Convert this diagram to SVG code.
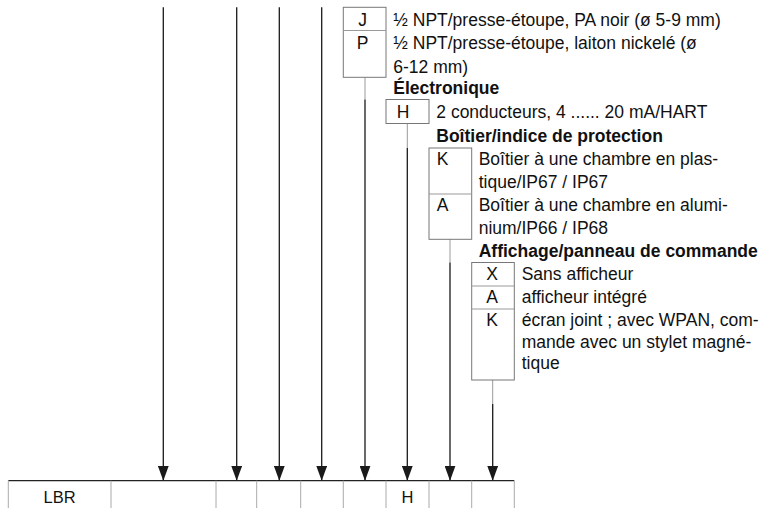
<svg xmlns="http://www.w3.org/2000/svg" width="760" height="508" viewBox="0 0 760 508">
<style>
text{font-family:"Liberation Sans",Arial,sans-serif;font-size:17.5px;fill:#111}
.b{font-weight:bold}
.c{text-anchor:middle}
.box{fill:none;stroke:#777;stroke-width:1}
.div{stroke:#999;stroke-width:1}
.ln{stroke:#1a1a1a;stroke-width:1.3;fill:none}
.gl{stroke:#999;stroke-width:1;fill:none}
.cell{stroke:#aaa;stroke-width:1}
</style>
<defs>
<marker id="ah" markerUnits="userSpaceOnUse" viewBox="0 0 11 15" markerWidth="11" markerHeight="15" refX="5.5" refY="15" orient="0">
<path d="M0,0 L11,0 L5.5,15 Z" fill="#1a1a1a"/>
</marker>
</defs>

<g id="connectors">
<line class="ln" x1="163.3" y1="7.3" x2="163.3" y2="480.7" marker-end="url(#ah)"/>
<line class="ln" x1="236.7" y1="7.3" x2="236.7" y2="480.7" marker-end="url(#ah)"/>
<line class="ln" x1="279.3" y1="7.3" x2="279.3" y2="480.7" marker-end="url(#ah)"/>
<line class="ln" x1="321.7" y1="7.3" x2="321.7" y2="480.7" marker-end="url(#ah)"/>
<line class="gl" x1="365" y1="77.3" x2="365" y2="99.5"/>
<line class="ln" x1="365" y1="99.5" x2="365" y2="480.7" marker-end="url(#ah)"/>
<line class="gl" x1="407.3" y1="123.5" x2="407.3" y2="148"/>
<line class="ln" x1="407.3" y1="148" x2="407.3" y2="480.7" marker-end="url(#ah)"/>
<line class="gl" x1="450" y1="239.3" x2="450" y2="262.5"/>
<line class="ln" x1="450" y1="262.5" x2="450" y2="480.7" marker-end="url(#ah)"/>
<line class="gl" x1="492.7" y1="380" x2="492.7" y2="404"/>
<line class="ln" x1="492.7" y1="404" x2="492.7" y2="480.7" marker-end="url(#ah)"/>
</g>

<g id="node-cable">
<rect class="box" x="343.3" y="7.3" width="42.7" height="70"/>
<line class="div" x1="343.3" y1="30.5" x2="386" y2="30.5"/>
<text class="c" x="362.5" y="25.5">J</text>
<text class="c" x="362.5" y="49">P</text>
<text x="393.3" y="25.5">½ NPT/presse-étoupe, PA noir (ø 5-9 mm)</text>
<text x="393.3" y="49">½ NPT/presse-étoupe, laiton nickelé (ø</text>
<text x="393.3" y="72.5">6-12 mm)</text>
</g>

<g id="node-electronique">
<text class="b" x="393.3" y="94">Électronique</text>
<rect class="box" x="386" y="99.5" width="43" height="24"/>
<text class="c" x="403" y="118">H</text>
<text x="436.3" y="118">2 conducteurs, 4 ...... 20 mA/HART</text>
</g>

<g id="node-boitier">
<text class="b" x="436.3" y="141.5">Boîtier/indice de protection</text>
<rect class="box" x="429" y="148" width="42.7" height="91.3"/>
<line class="div" x1="429" y1="194" x2="471.7" y2="194"/>
<text class="c" x="442.5" y="165">K</text>
<text class="c" x="442.5" y="211">A</text>
<text x="478.7" y="165">Boîtier à une chambre en plas-</text>
<text x="478.7" y="187.5">tique/IP67 / IP67</text>
<text x="478.7" y="211">Boîtier à une chambre en alumi-</text>
<text x="478.7" y="233.5">nium/IP66 / IP68</text>
</g>

<g id="node-affichage">
<text class="b" x="478.7" y="256.5">Affichage/panneau de commande</text>
<rect class="box" x="471.7" y="262.5" width="42.6" height="117.5"/>
<line class="div" x1="471.7" y1="286" x2="514.3" y2="286"/>
<line class="div" x1="471.7" y1="309" x2="514.3" y2="309"/>
<text class="c" x="492" y="280">X</text>
<text class="c" x="492" y="303">A</text>
<text class="c" x="492" y="325.5">K</text>
<text x="521.7" y="280">Sans afficheur</text>
<text x="521.7" y="303">afficheur intégré</text>
<text x="521.7" y="325.5">écran joint ; avec WPAN, com-</text>
<text x="521.7" y="347.5">mande avec un stylet magné-</text>
<text x="521.7" y="369">tique</text>
</g>

<g id="node-code-table">
<line x1="8.3" y1="480.7" x2="514.3" y2="480.7" stroke="#222" stroke-width="1.2"/>
<line class="cell" x1="8.3" y1="480.7" x2="8.3" y2="510" stroke="#777"/>
<line class="cell" x1="111" y1="480.7" x2="111" y2="510"/>
<line class="cell" x1="216" y1="480.7" x2="216" y2="510"/>
<line class="cell" x1="256.7" y1="480.7" x2="256.7" y2="510"/>
<line class="cell" x1="300.7" y1="480.7" x2="300.7" y2="510"/>
<line class="cell" x1="343.3" y1="480.7" x2="343.3" y2="510"/>
<line class="cell" x1="386" y1="480.7" x2="386" y2="510"/>
<line class="cell" x1="429" y1="480.7" x2="429" y2="510"/>
<line class="cell" x1="471.7" y1="480.7" x2="471.7" y2="510"/>
<line class="cell" x1="514.3" y1="480.7" x2="514.3" y2="510"/>
<text class="c" x="59.6" y="503" style="font-size:16.5px">LBR</text>
<text class="c" x="407.5" y="503" style="font-size:16.5px">H</text>
</g>
</svg>
